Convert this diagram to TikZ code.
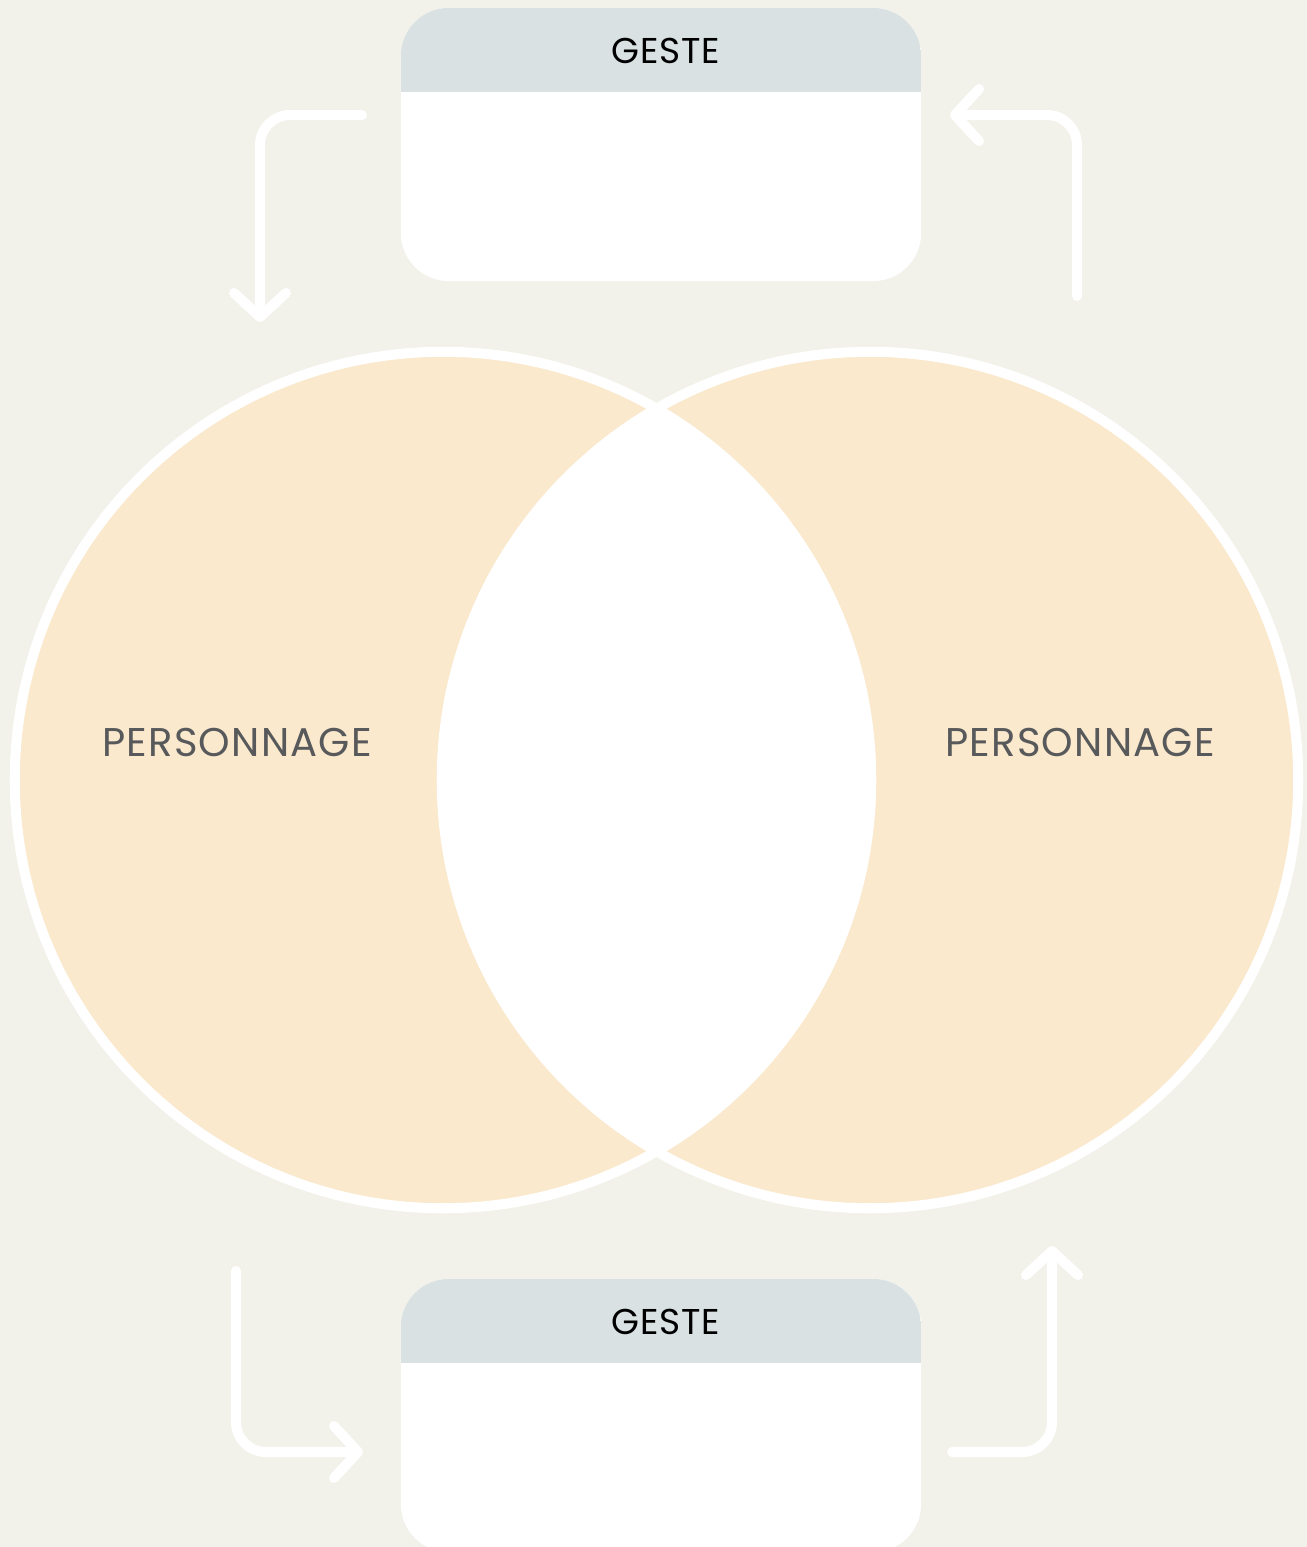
\documentclass[tikz,border=0pt]{standalone}
\usepackage{fontspec}
\setmainfont{Poppins}
\usepackage{tikz}
\usetikzlibrary{arrows.meta}
\usetikzlibrary{positioning}
\definecolor{fond}{HTML}{F2F1EA}
\definecolor{peche}{HTML}{FAE9CD}
\definecolor{entete}{HTML}{D9E1E3}
\definecolor{gristexte}{HTML}{58595B}
\begin{document}
\begin{tikzpicture}[x=0.01cm, y=-0.01cm,
	cercle/.style={circle, minimum size=8.56cm, inner sep=0pt, fill=peche},
	contour/.style={draw=white, line width=2.85pt},
	boite/.style={rectangle, minimum width=5.2cm, minimum height=2.73cm, inner sep=0pt, rounded corners=0.48cm, fill=white,
		path picture={\fill[entete, sharp corners] (path picture bounding box.north west) rectangle ([yshift=-0.84cm]path picture bounding box.north east);}},
	titre/.style={font=\fontsize{10.2}{12}\selectfont\addfontfeatures{LetterSpace=2}, text=black, inner sep=0pt},
	nom/.style={font=\fontsize{11.4}{14}\selectfont\addfontfeatures{LetterSpace=3}, text=gristexte, inner sep=0pt},
	fleche/.style={draw=white, line width=2.85pt, line cap=round, rounded corners=0.3cm, -{Straight Barb[length=2.4mm, width=5.2mm, round]}}]
	\useasboundingbox (0,0) rectangle (1307,1547);
	\clip (0,0) rectangle (1307,1547);
	\fill[fond] (0,0) rectangle (1307,1547);
	
	% les deux personnages
	\node[cercle] (persoG) at (443,780) {};
	\node[cercle] (persoD) at (870,780) {};
	\begin{scope}
		\clip (persoG.center) circle[radius=4.28cm];
		\fill[white] (persoD.center) circle[radius=4.28cm];
	\end{scope}
	\draw[contour] (persoG.center) circle[radius=4.28cm];
	\draw[contour] (persoD.center) circle[radius=4.28cm];
	\node[nom] (nomG) at (237,742) {PERSONNAGE};
	\node[nom] (nomD) at (1080,742) {PERSONNAGE};
	
	% les gestes
	\node[boite] (gesteH) at (661,144.5) {};
	\node[boite] (gesteB) at (661,1415.5) {};
	\node[titre] (titreH) at (666,51) {GESTE};
	\node[titre] (titreB) at (666,1322) {GESTE};
	
	% les fleches
	\coordinate (hgDep) at (362,115);
	\coordinate (hgArr) at (260,322);
	\coordinate (hdDep) at (1077,296);
	\coordinate (hdArr) at (950,115);
	\coordinate (bgDep) at (236,1271);
	\coordinate (bgArr) at (363,1452);
	\coordinate (bdDep) at (952,1452);
	\coordinate (bdArr) at (1052,1246);
	\draw[fleche] (hgDep) -| (hgArr);
	\draw[fleche] (hdDep) |- (hdArr);
	\draw[fleche] (bgDep) |- (bgArr);
	\draw[fleche] (bdDep) -| (bdArr);
\end{tikzpicture}
\end{document}
